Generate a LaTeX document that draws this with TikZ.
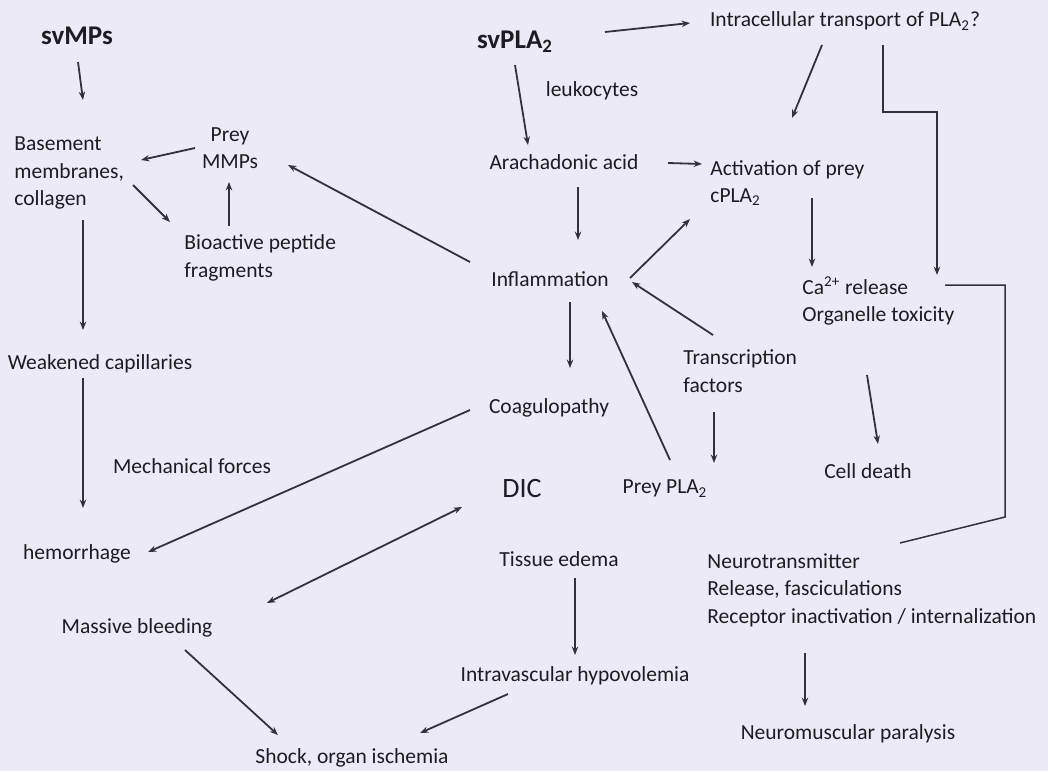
\documentclass[tikz,border=0pt]{standalone}
\usepackage{fontspec}
\setmainfont{Carlito}
\usetikzlibrary{arrows.meta,calc}
\definecolor{bgc}{RGB}{236,234,246}
\definecolor{txt}{RGB}{28,28,34}
\definecolor{ln}{RGB}{50,50,58}
\begin{document}
\begin{tikzpicture}[x=0.5pt,y=-0.5pt,
  >={Stealth[length=4.2pt,width=3.2pt]},
  lbl/.style={inner sep=0pt,text=txt,font=\fontsize{10.75}{13.75}\selectfont,text height=6.9pt,text depth=0pt},
  mlbl/.style={inner sep=0pt,text=txt,font=\fontsize{10.75}{13.75}\selectfont,align=left,anchor=west},
  title/.style={inner sep=0pt,text=txt,font=\fontsize{13.5}{15}\selectfont\bfseries,text height=8.6pt,text depth=0pt},
  arr/.style={draw=ln,line width=0.9pt,->},
  plain/.style={draw=ln,line width=0.75pt}]
\fill[bgc] (0,0) rectangle (1048,771);
\useasboundingbox (0,0) rectangle (1048,771);
% nodes
\node[title] (svmps) at (77,36) {svMPs};
\node[title] (svpla) at (515,40) {svPLA\textsubscript{2}};
\node[lbl] (intra) at (845,20) {Intracellular transport of PLA\textsubscript{2}?};
\node[lbl] (leuk) at (592,90) {leukocytes};
\node[mlbl] (base) at (14,173) {Basement\\membranes,\\collagen};
\node[mlbl,align=center,anchor=center] (mmps) at (230,148) {Prey\\MMPs};
\node[mlbl] (bioact) at (184,258) {Bioactive peptide\\fragments};
\node[lbl] (arach) at (564,163) {Arachadonic acid};
\node[mlbl] (activ) at (710,183) {Activation of prey\\cPLA\textsubscript{2}};
\node[lbl] (infl) at (550,280) {Inflammation};
\node[mlbl] (ca) at (802,301) {Ca\textsuperscript{2+} release\\Organelle toxicity};
\node[lbl] (weak) at (100,363) {Weakened capillaries};
\node[mlbl] (trans) at (683,371) {Transcription\\factors};
\node[lbl] (coag) at (549,407) {Coagulopathy};
\node[lbl] (mech) at (192,467) {Mechanical forces};
\node[lbl] (celldeath) at (868,472) {Cell death};
\node[lbl,font=\fontsize{14}{16}\selectfont,text height=9pt] (dic) at (522,488) {DIC};
\node[lbl] (preypla) at (665,487) {Prey PLA\textsubscript{2}};
\node[lbl] (hemo) at (77,553) {hemorrhage};
\node[lbl] (tissue) at (559,560) {Tissue edema};
\node[mlbl] (neuro) at (707,590) {Neurotransmitter\\Release, fasciculations\\Receptor inactivation / internalization};
\node[lbl] (massive) at (137,627) {Massive bleeding};
\node[lbl] (intrav) at (575,675) {Intravascular hypovolemia};
\node[lbl] (neuromusc) at (848,733) {Neuromuscular paralysis};
\node[lbl] (shock) at (352,757) {Shock, organ ischemia};
% connectors
\draw[arr] ($(svmps)+(1,26)$) -- ($(base.west)+(69,-73)$);
\draw[arr] ($(mmps)+(-35,0)$) -- ($(base.west)+(127,-13)$);
\draw[arr] ($(base.west)+(119,12)$) -- ($(bioact.west)+(-14,-36)$);
\draw[arr] ($(bioact.west)+(45,-32)$) -- ($(mmps)+(-1,34)$);
\draw[arr] ($(infl)+(-80,-18)$) -- ($(mmps)+(58,17)$);
\draw[arr] ($(base.west)+(69,47)$) -- ($(weak)+(-17,-33)$);
\draw[arr] ($(weak)+(-17,15)$) -- ($(hemo)+(6,-45)$);
\draw[arr] ($(coag)+(-79,3)$) -- ($(hemo)+(71,-1)$);
\draw[arr,<->] ($(massive)+(130,-24)$) -- ($(dic)+(-60,19)$);
\draw[arr] ($(massive)+(48,23)$) -- ($(shock)+(-74,-22)$);
\draw[arr] ($(intrav)+(-67,19)$) -- ($(shock)+(68,-24)$);
\draw[arr] ($(tissue)+(16,18)$) -- ($(intrav)+(0,-20)$);
\draw[arr] ($(svpla)+(0,25)$) -- ($(arach)+(-36,-18)$);
\draw[arr] ($(svpla)+(90,-8)$) -- ($(intra)+(-155,3)$);
\draw[arr] ($(arach)+(104,0)$) -- ($(activ.west)+(-8,-19)$);
\draw[arr] ($(arach)+(14,24)$) -- ($(infl)+(28,-40)$);
\draw[arr] ($(intra)+(-23,25)$) -- ($(activ.west)+(82,-65)$);
\draw[arr] ($(intra)+(38,25)$) -- ++(0,67) -| ($(ca.west)+(135,-26)$);
\draw[arr] ($(activ.west)+(102,15)$) -- ($(ca.west)+(10,-34)$);
\draw[arr] ($(infl)+(80,-2)$) -- ($(activ.west)+(-20,36)$);
\draw[arr] ($(trans.west)+(30,-36)$) -- ($(infl)+(82,2)$);
\draw[arr] ($(trans.west)+(31,41)$) -- ($(preypla)+(49,-24)$);
\draw[arr] ($(preypla)+(5,-27)$) -- ($(infl)+(52,31)$);
\draw[arr] ($(infl)+(20,22)$) -- ($(coag)+(21,-39)$);
\draw[arr] ($(ca.west)+(65,74)$) -- ($(celldeath)+(10,-28)$);
\draw[plain] ($(ca.west)+(143,-16)$) -- ++(60,0) -- ++(0,232) -- ($(neuro.west)+(193,-47)$);
\draw[arr] ($(neuro.west)+(98,63)$) -- ($(neuromusc)+(-43,-27)$);
\end{tikzpicture}
\end{document}
